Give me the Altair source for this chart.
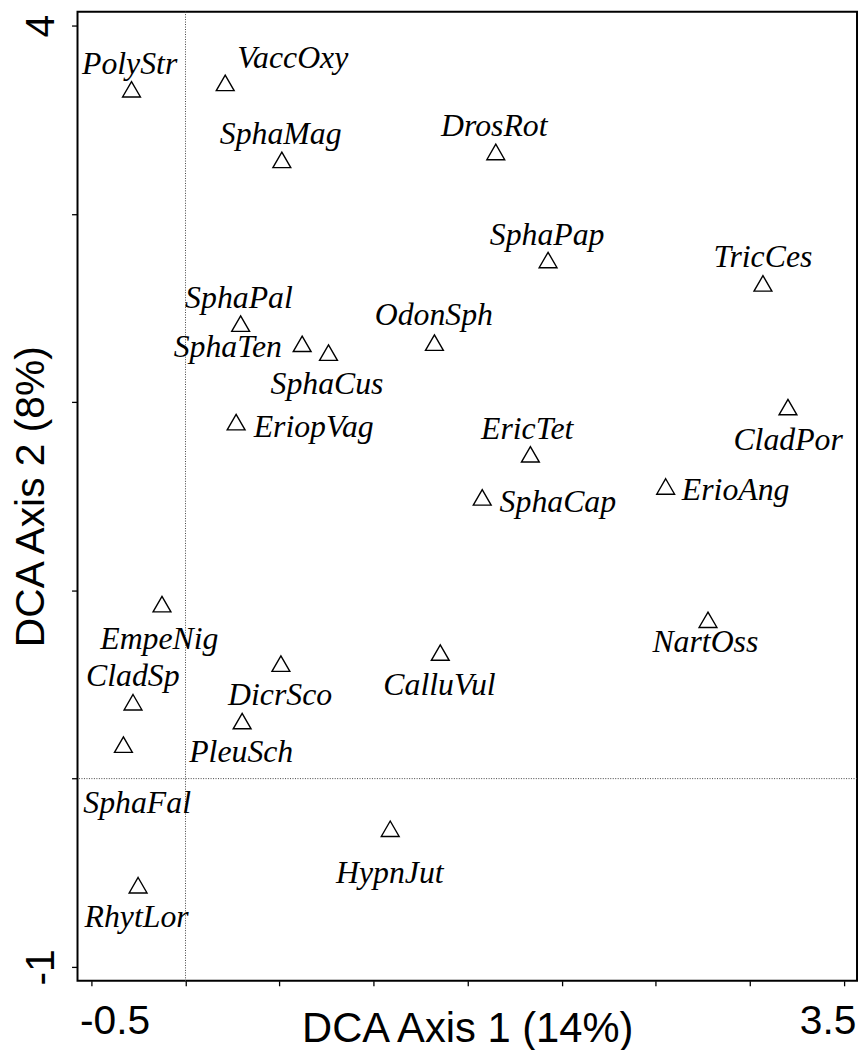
import altair as alt
import pandas as pd

# ---- data ----
species = ["PolyStr", "VaccOxy", "SphaMag", "DrosRot", "SphaPap", "TricCes",
           "SphaPal", "SphaTen", "SphaCus", "OdonSph", "EriopVag", "CladPor",
           "EricTet", "ErioAng", "SphaCap", "EmpeNig", "NartOss", "CladSp",
           "DicrSco", "CalluVul", "PleuSch", "SphaFal", "HypnJut", "RhytLor"]
axis1 = [-0.287, 0.211, 0.512, 1.649, 1.927, 3.069,
         0.293, 0.620, 0.760, 1.323, 0.269, 3.202,
         1.833, 2.552, 1.577, -0.125, 2.777, -0.279,
         0.507, 1.354, 0.301, -0.330, 1.088, -0.252]
axis2 = [3.648, 3.682, 3.273, 3.315, 2.741, 2.617,
         2.403, 2.296, 2.249, 2.302, 1.880, 1.960,
         1.709, 1.538, 1.480, 0.913, 0.830, 0.392,
         0.597, 0.656, 0.292, 0.167, -0.280, -0.580]
# label anchor (centre, baseline) in data units
label_x = [-0.297, 0.570, 0.506, 1.641, 1.922, 3.069,
           0.284, 0.225, 0.752, 1.320, 0.681, 3.203,
           1.816, 2.924, 1.979, -0.139, 2.763, -0.280,
           0.503, 1.350, 0.296, -0.257, 1.086, -0.260]
label_y = [3.742, 3.773, 3.369, 3.413, 2.833, 2.718,
           2.498, 2.238, 2.042, 2.407, 1.816, 1.743,
           1.804, 1.479, 1.417, 0.691, 0.670, 0.494,
           0.389, 0.445, 0.086, -0.182, -0.552, -0.789]

x_ticks = [-0.5, 0, 0.5, 1, 1.5, 2, 2.5, 3, 3.5]
x_tick_labels = ["-0.5", "", "", "", "", "", "", "", "3.5"]
y_ticks = [-1, 0, 1, 2, 3, 4]
y_tick_labels = ["-1", "", "", "", "", "4"]
x_domain = [-0.574, 3.569]
y_domain = [-1.074, 4.074]
ref_x = [0]
ref_y = [0]

x_title = "DCA Axis 1 (14%)"
y_title = "DCA Axis 2 (8%)"


def label_expr(vals, labels):
    expr = "''"
    for v, l in reversed(list(zip(vals, labels))):
        if l:
            expr = f"abs(datum.value - ({v})) < 1e-9 ? '{l}' : " + expr
    return expr


df = pd.DataFrame({"species": species, "axis1": axis1, "axis2": axis2,
                   "lx": label_x, "ly": label_y})
df_rx = pd.DataFrame({"v": ref_x})
df_ry = pd.DataFrame({"v": ref_y})

W, H = 785, 976

xs = alt.Scale(domain=x_domain, nice=False, zero=False)
ys = alt.Scale(domain=y_domain, nice=False, zero=False)

x_axis = alt.Axis(
    values=x_ticks, labelExpr=label_expr(x_ticks, x_tick_labels),
    title=x_title, grid=False, domain=False,
    tickSize=5, tickWidth=1.3, tickColor="black",
    labelFont="Liberation Sans", labelFontSize=41, labelColor="black",
    labelFlush=20, labelFlushOffset=12, labelBaseline="alphabetic",
    labelPadding=48, labelOverlap=False,
    titleFont="Liberation Sans", titleFontSize=42, titleFontWeight="normal",
    titleColor="black", titleX=W / 2, titleY=61, titleAlign="center",
    titleBaseline="alphabetic",
)
y_axis = alt.Axis(
    values=y_ticks, labelExpr=label_expr(y_ticks, y_tick_labels),
    title=y_title, grid=False, domain=False,
    tickSize=6, tickWidth=1.3, tickColor="black",
    labelFont="Liberation Sans", labelFontSize=41, labelColor="black",
    labelAngle=270, labelAlign="center", labelBaseline="alphabetic",
    labelPadding=18, labelOverlap=False,
    titleFont="Liberation Sans", titleFontSize=41, titleFontWeight="normal",
    titleColor="black", titleAngle=270, titleX=-34, titleY=H / 2,
    titleAlign="center", titleBaseline="alphabetic",
)

# equilateral open triangle (R pch 2), centroid-centred, in [-1, 1] units
TRI = "M0,-1.1547L1,0.5774L-1,0.5774Z"

vline = alt.Chart(df_rx).mark_rule(
    color="#444", strokeDash=[1, 1.5], strokeWidth=1
).encode(x=alt.X("v:Q", scale=xs, axis=x_axis))

hline = alt.Chart(df_ry).mark_rule(
    color="#444", strokeDash=[1, 1.5], strokeWidth=1
).encode(y=alt.Y("v:Q", scale=ys, axis=y_axis))

points = alt.Chart(df).mark_point(
    shape=TRI, size=324, filled=False, color="black", strokeWidth=1.4, opacity=1
).encode(
    x=alt.X("axis1:Q", scale=xs, axis=x_axis),
    y=alt.Y("axis2:Q", scale=ys, axis=y_axis),
)

labels = alt.Chart(df).mark_text(
    font="Liberation Serif", fontStyle="italic", fontSize=32,
    align="center", baseline="alphabetic", color="black"
).encode(
    x=alt.X("lx:Q", scale=xs, axis=x_axis),
    y=alt.Y("ly:Q", scale=ys, axis=y_axis),
    text="species:N",
)

chart = alt.layer(vline, hline, points, labels).properties(
    width=W, height=H,
    padding={"left": 70, "top": 0, "right": 2, "bottom": 66},
    autosize=alt.AutoSizeParams(type="none"),
).configure_view(stroke="black", strokeWidth=2)

chart.save("out.html", embed_options={"renderer": "svg", "actions": False})
